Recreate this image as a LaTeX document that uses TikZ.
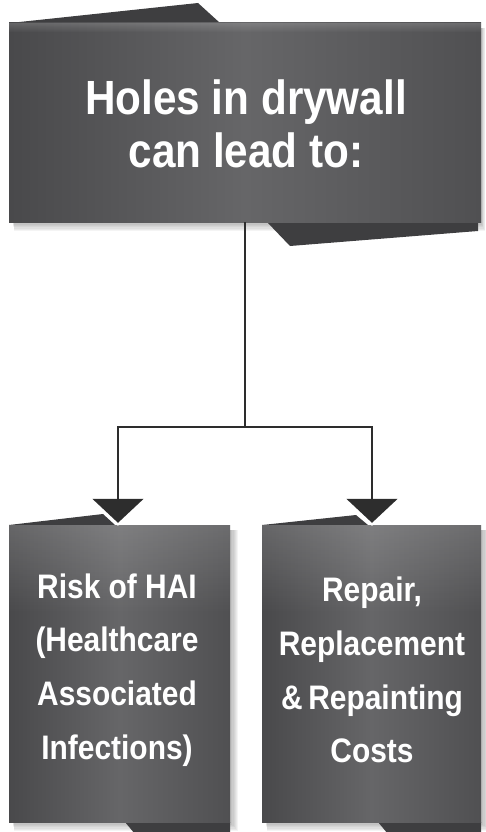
\documentclass[tikz,border=0pt]{standalone}
\usepackage{fontspec}
\newfontfamily\boxfont[FakeStretch=0.88]{Liberation Sans Bold}
\usetikzlibrary{arrows.meta,fadings}
\definecolor{boxdark}{HTML}{49494B}
\definecolor{boxmid}{HTML}{666668}
\definecolor{boxright}{HTML}{505052}
\definecolor{flapcol}{HTML}{3E3E40}
\definecolor{linecol}{HTML}{2D2D2D}
\tikzset{
  panel/.style={draw=none, inner sep=0pt, left color=boxdark, right color=boxright, middle color=boxmid},
  gloss/.style={fill=white, fill opacity=0.16, path fading=south, draw=none},
  flap/.style={fill=flapcol, draw=none},
  bigtext/.style={text=white, align=center, font=\boxfont\fontsize{48}{53}\selectfont},
  smalltext/.style={text=white, align=center, font=\boxfont\fontsize{34}{53.7}\selectfont},
  conn/.style={draw=linecol, line width=1.5pt},
  arr/.style={conn, -{Triangle[width=51pt,length=24pt]}},
}
\begin{document}
\begin{tikzpicture}[x=1pt,y=-1pt]
\useasboundingbox (0,0) rectangle (486,832);
% shadows
\foreach \i in {1,...,7}{
  \fill[black,opacity=0.045] (12+0.3*\i,28) rectangle (481+0.6*\i,222+1.3*\i);
  \fill[black,opacity=0.045] (12+0.3*\i,530) rectangle (230+1.2*\i,822+1.3*\i);
  \fill[black,opacity=0.045] (265+0.3*\i,530) rectangle (481+1.2*\i,822+1.3*\i);
}
% flaps
\fill[flap] (10,23) -- (198,3) -- (220,23) -- cycle;
\fill[flap] (267,222) -- (290,246) -- (478,231) -- (478,222) -- cycle;
\fill[flap] (9,525) -- (103,514) -- (115,525) -- cycle;
\fill[flap] (125,822) -- (140,840) -- (230,832) -- (230,822) -- cycle;
\fill[flap] (262,525) -- (356,515) -- (368,525) -- cycle;
\fill[flap] (378,822) -- (393,840) -- (481,832) -- (481,822) -- cycle;
% boxes
\node[panel, minimum width=472pt, minimum height=199pt] (T) at (245,122.5) {};
\fill[gloss] (T.north west) rectangle ([yshift=90pt]T.east);
\node[bigtext] (Ttext) at (246,124) {Holes in drywall\\can lead to:};
\node[panel, minimum width=221pt, minimum height=297pt] (L) at (119.5,673.5) {};
\fill[gloss] (L.north west) rectangle ([yshift=60pt]L.east);
\node[smalltext] (Ltext) at (117,670) {Risk of HAI\\(Healthcare\\Associated\\Infections)};
\node[panel, minimum width=219pt, minimum height=297pt] (R) at (371.5,673.5) {};
\fill[gloss] (R.north west) rectangle ([yshift=60pt]R.east);
\node[smalltext] (Rtext) at (372,670) {Repair,\\Replacement\\\&\,Repainting\\Costs};
% connectors
\coordinate (split) at (245,427);
\draw[conn] (T.south) -- (split);
\draw[white, line width=4pt, line join=miter] (93,499) -- (118,523) -- (144,499);
\draw[white, line width=4pt, line join=miter] (347,499) -- (372,523) -- (397,499);
\draw[arr] (split) -| ([xshift=-1.5pt,yshift=2pt]L.north);
\draw[arr] (split) -| ([xshift=0.5pt,yshift=2pt]R.north);
\end{tikzpicture}
\end{document}
